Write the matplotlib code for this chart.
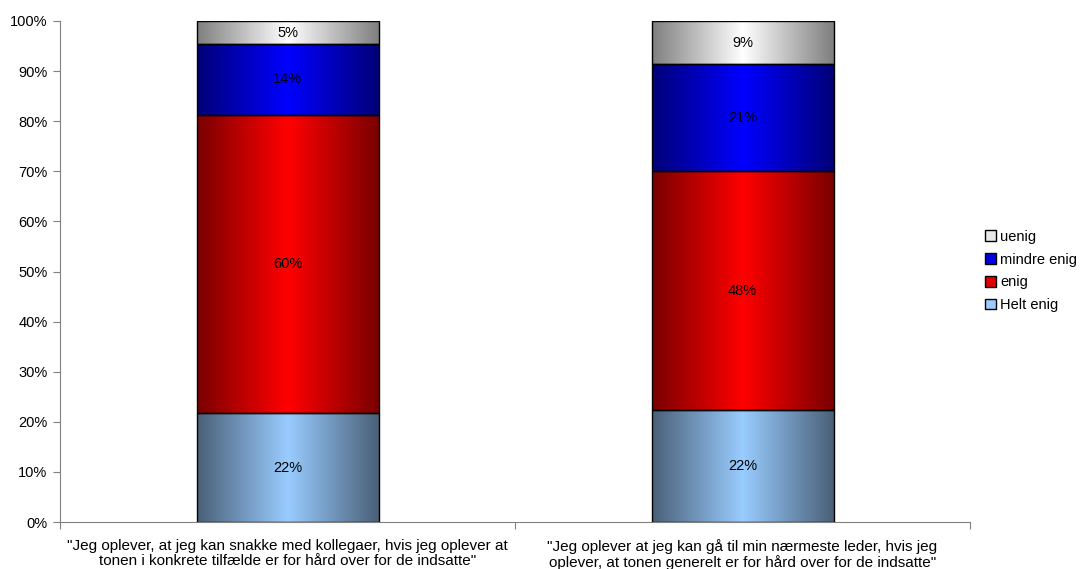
import numpy as np
import matplotlib
matplotlib.use("Agg")
import matplotlib.pyplot as plt
from matplotlib.colors import LinearSegmentedColormap
from matplotlib.patches import Patch

plt.rcParams['font.family'] = ['Liberation Sans', 'DejaVu Sans']

categories = ['"Jeg oplever, at jeg kan snakke med kollegaer, hvis jeg oplever at\ntonen i konkrete tilfælde er for hård over for de indsatte"',
              '"Jeg oplever at jeg kan gå til min nærmeste leder, hvis jeg\noplever, at tonen generelt er for hård over for de indsatte"']
series_names = ['Helt enig', 'enig', 'mindre enig', 'uenig']
helt_enig = [21.7, 22.4]
enig = [59.6, 47.6]
mindre_enig = [14.1, 21.4]
uenig = [4.6, 8.6]
series_values = [helt_enig, enig, mindre_enig, uenig]
yticks = [0, 10, 20, 30, 40, 50, 60, 70, 80, 90, 100]

edge_cols = ['#4a6078', '#7a0000', '#000078', '#7f7f7f']
mid_cols = ['#99ccff', '#ff0000', '#0000ff', '#ffffff']
legend_cols = ['#99ccff', '#e00000', '#0000e0', '#e8e8e8']

fig = plt.figure(figsize=(10.82, 5.69), dpi=100)
ax = fig.add_axes([60/1082, 47/569, 910/1082, 501/569])

width = 0.4
x = np.arange(len(categories))
bottoms = np.zeros(len(categories))
grad = np.linspace(0, 1, 256)[None, :]
for i, vals in enumerate(series_values):
    cmap = LinearSegmentedColormap.from_list(
        f'g{i}', [(0, edge_cols[i]), (0.5, mid_cols[i]), (1, edge_cols[i])])
    ax.bar(x, vals, width, bottom=bottoms, color='none', edgecolor='black', linewidth=1.0, zorder=3)
    for xi, v, b in zip(x, vals, bottoms):
        ax.imshow(grad, cmap=cmap, aspect='auto', extent=(xi - width/2, xi + width/2, b, b + v),
                  zorder=2, interpolation='bilinear')
        ax.text(xi, b + v/2, f'{round(v):d}%', ha='center', va='center', fontsize=10.5, zorder=4)
    bottoms = bottoms + np.array(vals)

ax.set_xlim(-0.5, 1.5)
ax.set_ylim(0, 100)
ax.set_yticks(yticks)
ax.set_yticklabels([f'{t}%' for t in yticks], fontsize=10.5)
ax.set_xticks([-0.5, 0.5, 1.5])
ax.set_xticklabels([])
ax.set_xticks(x, minor=True)
ax.set_xticklabels(categories, minor=True, fontsize=11, linespacing=1.12)
ax.tick_params(axis='x', which='minor', length=0, pad=12)
ax.tick_params(axis='x', which='major', length=5, color='#808080', direction='out')
ax.tick_params(axis='y', length=5, color='#808080', direction='out', pad=4)
for s in ['top', 'right']:
    ax.spines[s].set_visible(False)
for s in ['left', 'bottom']:
    ax.spines[s].set_color('#808080')

handles = [Patch(facecolor=legend_cols[i], edgecolor='black', linewidth=1.0) for i in range(4)][::-1]
fig.legend(handles, series_names[::-1], loc='center left', bbox_to_anchor=(985/1082, 1 - 271/569),
           frameon=False, fontsize=10.5, handlelength=0.75, handleheight=0.75, handletextpad=0.3,
           labelspacing=0.6, borderpad=0, borderaxespad=0)

fig.savefig('out.png', dpi=100)
